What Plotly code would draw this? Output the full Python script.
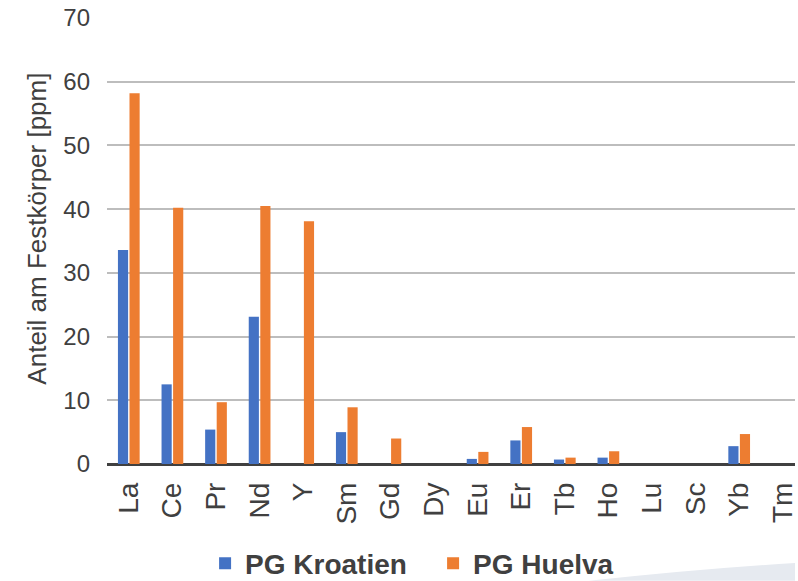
import plotly.graph_objects as go

elements = ["La", "Ce", "Pr", "Nd", "Y", "Sm", "Gd", "Dy", "Eu", "Er", "Tb", "Ho", "Lu", "Sc", "Yb", "Tm"]
pg_kroatien = [33.6, 12.5, 5.4, 23.1, 0, 5.0, 0, 0, 0.8, 3.7, 0.7, 1.0, 0, 0, 2.8, 0]
pg_huelva = [58.2, 40.2, 9.7, 40.5, 38.1, 8.9, 4.0, 0, 1.9, 5.8, 1.0, 2.0, 0, 0, 4.7, 0]
y_ticks = [0, 10, 20, 30, 40, 50, 60, 70]

FONT = "Liberation Sans, Arial, sans-serif"
TXT = "#404040"

fig = go.Figure()
fig.add_trace(go.Bar(x=elements, y=pg_kroatien, name="PG Kroatien",
                     marker=dict(color="#4472C4", line=dict(width=0))))
fig.add_trace(go.Bar(x=elements, y=pg_huelva, name="PG Huelva",
                     marker=dict(color="#ED7D31", line=dict(width=0))))

fig.update_layout(
    width=798, height=581,
    margin=dict(l=107, r=0, t=18, b=117),
    paper_bgcolor="white", plot_bgcolor="white",
    barmode="group", bargap=0.47, bargroupgap=0.12,
    font=dict(family=FONT, color=TXT),
    showlegend=True,
    legend=dict(orientation="h", xref="container", yref="container",
                x=0.257, xanchor="left", y=0.03, yanchor="middle",
                font=dict(size=28, family=FONT, color=TXT, weight="bold"),
                itemwidth=30, entrywidth=183, entrywidthmode="pixels",
                tracegroupgap=0, bgcolor="rgba(0,0,0,0)"),
    xaxis=dict(type="category", range=[-0.5, 15.28], tickangle=-90,
               tickfont=dict(size=28, family=FONT, color=TXT),
               showgrid=False, showline=False, ticks="", ticklabelstandoff=12,
               fixedrange=True),
    yaxis=dict(range=[0, 70], tickvals=y_ticks, ticktext=[str(v) for v in y_ticks],
               tickfont=dict(size=24, family=FONT, color=TXT),
               showgrid=True, gridcolor="#BDBDBD", gridwidth=1.6,
               zeroline=True, zerolinecolor="#404040", zerolinewidth=2.5,
               showline=False, ticks="", ticklabelstandoff=16,
               fixedrange=True),
    annotations=[dict(text="Anteil am Festkörper [ppm]", textangle=-90,
                      xref="paper", yref="paper", x=-0.103, y=0.528,
                      xanchor="center", yanchor="middle", showarrow=False,
                      font=dict(size=26, family=FONT, color=TXT))],
    shapes=[dict(type="path", xref="paper", yref="paper", layer="below",
                 path="M 0.70,-0.262 Q 0.86,-0.235 1.0,-0.222 L 1.0,-0.262 Z",
                 fillcolor="#E6EAF0", line=dict(width=0))],
)

fig.write_html("out.html")
